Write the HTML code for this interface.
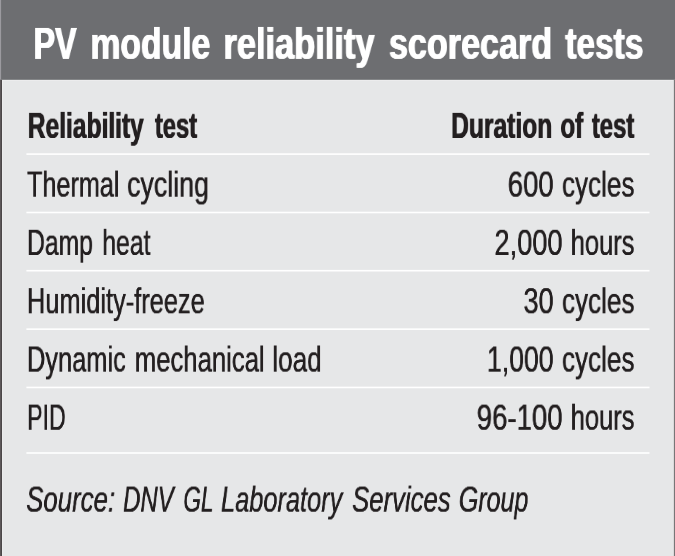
<!DOCTYPE html>
<html><head><meta charset="utf-8"><title>PV module reliability scorecard tests</title>
<style>
html,body{margin:0;padding:0;}
body{width:675px;height:556px;position:relative;overflow:hidden;background:#e6e7e8;font-family:"Liberation Sans",sans-serif;}
svg{position:absolute;left:0;top:0;}
.t{position:absolute;left:0;top:0;white-space:nowrap;line-height:1;transform-origin:0 0;display:block;will-change:transform;color:#231f20;}
.b{font-weight:bold;}
.i{font-style:italic;}
.w{color:#ffffff;}
</style></head><body>
<svg width="675" height="556" viewBox="0 0 675 556" shape-rendering="geometricPrecision">
<rect x="0" y="0" width="675" height="556" fill="#e6e7e8"/>
<rect x="0" y="0" width="675" height="79.8" fill="#6d6e71"/>
<rect x="0" y="0" width="1.1" height="79.8" fill="#9b9a9f"/>
<rect x="2" y="80.00" width="671.8" height="1" fill="#ececed"/>
<rect x="0" y="79.8" width="1" height="476.20" fill="#5d5859"/>
<rect x="1" y="79.8" width="1" height="476.20" fill="#4b4748"/>
<rect x="2" y="80.00" width="0.9" height="476.20" fill="#ececed"/>
<rect x="672.95" y="80.00" width="0.9" height="476.20" fill="#ececed"/>
<rect x="673.85" y="79.8" width="1.15" height="476.20" fill="#787677"/>
<rect x="26.4" y="153.30" width="623.1" height="1.6" fill="#ffffff"/><rect x="26.4" y="211.70" width="623.1" height="1.6" fill="#ffffff"/><rect x="26.4" y="269.90" width="623.1" height="1.6" fill="#ffffff"/><rect x="26.4" y="328.35" width="623.1" height="1.6" fill="#ffffff"/><rect x="26.4" y="386.65" width="623.1" height="1.6" fill="#ffffff"/><rect x="26.4" y="452.20" width="623.1" height="1.6" fill="#ffffff"/>
</svg>
<div>
<span class="t b w" style="font-size:44px;transform:translate(33.49px,21.90px) scale(0.7359,1.0);text-shadow:0.75px 0 0 #ffffff,-0.75px 0 0 #ffffff;">PV</span>
<span class="t b w" style="font-size:44px;transform:translate(90.40px,21.90px) scale(0.7661,1.0);text-shadow:0.72px 0 0 #ffffff,-0.72px 0 0 #ffffff;">module</span>
<span class="t b w" style="font-size:44px;transform:translate(223.46px,21.90px) scale(0.7819,1.0);text-shadow:0.70px 0 0 #ffffff,-0.70px 0 0 #ffffff;">reliability</span>
<span class="t b w" style="font-size:44px;transform:translate(388.90px,21.90px) scale(0.7761,1.0);text-shadow:0.71px 0 0 #ffffff,-0.71px 0 0 #ffffff;">scorecard</span>
<span class="t b w" style="font-size:44px;transform:translate(565.30px,21.90px) scale(0.7606,1.0);text-shadow:0.72px 0 0 #ffffff,-0.72px 0 0 #ffffff;">tests</span>
</div>
<div>
<span class="t b" style="font-size:36px;transform:translate(27.87px,108.93px) scale(0.6810,0.969);text-shadow:0.59px 0 0 #231f20,-0.59px 0 0 #231f20;">Reliability</span>
<span class="t b" style="font-size:36px;transform:translate(154.88px,108.93px) scale(0.6591,0.969);text-shadow:0.61px 0 0 #231f20,-0.61px 0 0 #231f20;">test</span>
</div>
<div>
<span class="t b" style="font-size:36px;transform:translate(451.16px,108.93px) scale(0.6827,0.969);text-shadow:0.59px 0 0 #231f20,-0.59px 0 0 #231f20;">Duration</span>
<span class="t b" style="font-size:36px;transform:translate(560.33px,108.93px) scale(0.6740,0.969);text-shadow:0.59px 0 0 #231f20,-0.59px 0 0 #231f20;">of</span>
<span class="t b" style="font-size:36px;transform:translate(591.78px,108.93px) scale(0.6638,0.969);text-shadow:0.60px 0 0 #231f20,-0.60px 0 0 #231f20;">test</span>
</div>
<div>
<span class="t" style="font-size:36px;transform:translate(27.01px,167.63px) scale(0.6998,0.969);text-shadow:0.14px 0 0 #231f20,-0.14px 0 0 #231f20;">Thermal</span>
<span class="t" style="font-size:36px;transform:translate(127.04px,167.63px) scale(0.7439,0.969);text-shadow:0.13px 0 0 #231f20,-0.13px 0 0 #231f20;">cycling</span>
</div>
<div>
<span class="t" style="font-size:36px;transform:translate(507.73px,167.63px) scale(0.7630,0.969);text-shadow:0.13px 0 0 #231f20,-0.13px 0 0 #231f20;">600</span>
<span class="t" style="font-size:36px;transform:translate(561.97px,167.63px) scale(0.7243,0.969);text-shadow:0.14px 0 0 #231f20,-0.14px 0 0 #231f20;">cycles</span>
</div>
<div>
<span class="t" style="font-size:36px;transform:translate(27.04px,225.88px) scale(0.6859,0.969);text-shadow:0.15px 0 0 #231f20,-0.15px 0 0 #231f20;">Damp</span>
<span class="t" style="font-size:36px;transform:translate(102.27px,225.88px) scale(0.6878,0.969);text-shadow:0.15px 0 0 #231f20,-0.15px 0 0 #231f20;">heat</span>
</div>
<div>
<span class="t" style="font-size:36px;transform:translate(494.44px,225.88px) scale(0.7551,0.969);text-shadow:0.13px 0 0 #231f20,-0.13px 0 0 #231f20;">2,000</span>
<span class="t" style="font-size:36px;transform:translate(570.72px,225.88px) scale(0.7070,0.969);text-shadow:0.14px 0 0 #231f20,-0.14px 0 0 #231f20;">hours</span>
</div>
<div>
<span class="t" style="font-size:36px;transform:translate(26.98px,284.23px) scale(0.7052,0.969);text-shadow:0.14px 0 0 #231f20,-0.14px 0 0 #231f20;">Humidity-freeze</span>
</div>
<div>
<span class="t" style="font-size:36px;transform:translate(523.51px,284.23px) scale(0.7503,0.969);text-shadow:0.13px 0 0 #231f20,-0.13px 0 0 #231f20;">30</span>
<span class="t" style="font-size:36px;transform:translate(561.97px,284.23px) scale(0.7243,0.969);text-shadow:0.14px 0 0 #231f20,-0.14px 0 0 #231f20;">cycles</span>
</div>
<div>
<span class="t" style="font-size:36px;transform:translate(26.98px,342.58px) scale(0.7055,0.969);text-shadow:0.14px 0 0 #231f20,-0.14px 0 0 #231f20;">Dynamic</span>
<span class="t" style="font-size:36px;transform:translate(134.79px,342.58px) scale(0.7132,0.969);text-shadow:0.14px 0 0 #231f20,-0.14px 0 0 #231f20;">mechanical</span>
<span class="t" style="font-size:36px;transform:translate(272.26px,342.58px) scale(0.7260,0.969);text-shadow:0.14px 0 0 #231f20,-0.14px 0 0 #231f20;">load</span>
</div>
<div>
<span class="t" style="font-size:36px;transform:translate(486.96px,342.58px) scale(0.7391,0.969);text-shadow:0.14px 0 0 #231f20,-0.14px 0 0 #231f20;">1,000</span>
<span class="t" style="font-size:36px;transform:translate(561.97px,342.58px) scale(0.7243,0.969);text-shadow:0.14px 0 0 #231f20,-0.14px 0 0 #231f20;">cycles</span>
</div>
<div>
<span class="t" style="font-size:36px;transform:translate(27.17px,400.73px) scale(0.6417,0.969);text-shadow:0.16px 0 0 #231f20,-0.16px 0 0 #231f20;">PID</span>
</div>
<div>
<span class="t" style="font-size:36px;transform:translate(476.71px,400.73px) scale(0.7654,0.969);text-shadow:0.13px 0 0 #231f20,-0.13px 0 0 #231f20;">96-100</span>
<span class="t" style="font-size:36px;transform:translate(570.72px,400.73px) scale(0.7070,0.969);text-shadow:0.14px 0 0 #231f20,-0.14px 0 0 #231f20;">hours</span>
</div>
<div>
<span class="t i" style="font-size:36px;transform:translate(26.13px,482.63px) scale(0.7173,0.969);text-shadow:0.14px 0 0 #231f20,-0.14px 0 0 #231f20;">Source:</span>
<span class="t i" style="font-size:36px;transform:translate(123.08px,482.63px) scale(0.6659,0.969);text-shadow:0.15px 0 0 #231f20,-0.15px 0 0 #231f20;">DNV</span>
<span class="t i" style="font-size:36px;transform:translate(183.37px,482.63px) scale(0.6273,0.969);text-shadow:0.16px 0 0 #231f20,-0.16px 0 0 #231f20;">GL</span>
<span class="t i" style="font-size:36px;transform:translate(220.94px,482.63px) scale(0.7054,0.969);text-shadow:0.14px 0 0 #231f20,-0.14px 0 0 #231f20;">Laboratory</span>
<span class="t i" style="font-size:36px;transform:translate(352.03px,482.63px) scale(0.7144,0.969);text-shadow:0.14px 0 0 #231f20,-0.14px 0 0 #231f20;">Services</span>
<span class="t i" style="font-size:36px;transform:translate(458.85px,482.63px) scale(0.6943,0.969);text-shadow:0.14px 0 0 #231f20,-0.14px 0 0 #231f20;">Group</span>
</div>
</body></html>
